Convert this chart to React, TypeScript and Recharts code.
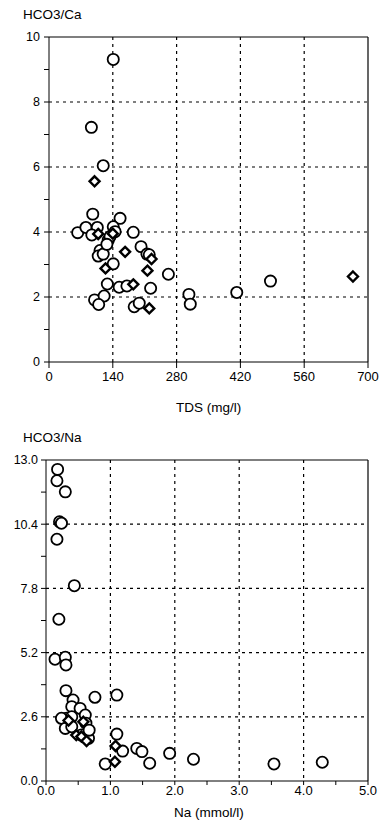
import React from 'react';
import { ScatterChart, Scatter, XAxis, YAxis, CartesianGrid, ReferenceLine } from 'recharts';

// ---- Chart 1: HCO3/Ca vs TDS ----
const tdsCircleX = [141, 93, 119, 96, 63, 81, 106, 94, 156, 141, 145, 185, 130, 134, 112, 108, 119, 202, 215, 141, 262, 128, 154, 171, 223, 100, 121, 109, 187, 198, 307, 310, 412, 486, 127, 220];
const caCircleY = [9.31, 7.22, 6.04, 4.55, 3.98, 4.14, 4.14, 3.91, 4.42, 4.16, 4.01, 3.99, 3.75, 3.86, 3.43, 3.26, 3.32, 3.55, 3.32, 3.02, 2.70, 2.40, 2.30, 2.34, 2.27, 1.91, 2.03, 1.77, 1.70, 1.81, 2.08, 1.78, 2.14, 2.49, 3.62, 3.3];
const tdsDiamondX = [100, 108, 167, 225, 124, 216, 185, 220, 667, 140];
const caDiamondY = [5.56, 3.94, 3.39, 3.17, 2.88, 2.81, 2.39, 1.65, 2.63, 3.95];
const tdsTicks = [0, 140, 280, 420, 560, 700];
const caTicks = [0, 1, 2, 3, 4, 5, 6, 7, 8, 9, 10];
const caMajor = [2, 4, 6, 8];
const tdsGrid = [140, 280, 420, 560];

// ---- Chart 2: HCO3/Na vs Na ----
const naCircleX = [0.18, 0.17, 0.30, 0.21, 0.24, 0.17, 0.44, 0.20, 0.14, 0.30, 0.31, 0.31, 0.76, 1.10, 0.42, 0.40, 0.53, 0.32, 0.24, 0.40, 0.61, 0.62, 0.30, 0.40, 0.55, 0.66, 0.67, 1.10, 1.19, 1.41, 1.49, 1.61, 1.92, 2.29, 0.92, 3.54, 4.29];
const naCircleY = [12.62, 12.16, 11.71, 10.50, 10.44, 9.79, 7.91, 6.55, 4.93, 5.01, 4.70, 3.66, 3.39, 3.48, 3.28, 3.01, 2.94, 2.54, 2.54, 2.60, 2.67, 2.34, 2.13, 2.20, 1.86, 1.73, 2.06, 1.90, 1.21, 1.32, 1.19, 0.72, 1.12, 0.88, 0.69, 0.69, 0.76];
const naDiamondX = [0.47, 0.55, 0.63, 1.08, 1.07, 0.35, 0.58];
const naDiamondY = [1.86, 1.80, 1.62, 1.42, 0.78, 2.45, 2.40];
const naTicks = [0, 0.5, 1, 1.5, 2, 2.5, 3, 3.5, 4, 4.5, 5];
const naMajor = [0, 1, 2, 3, 4, 5];
const naRatioTicks = [0, 1.3, 2.6, 3.9, 5.2, 6.5, 7.8, 9.1, 10.4, 11.7, 13];
const naRatioMajor = [0, 2.6, 5.2, 7.8, 10.4, 13];
const naGridX = [1, 2, 3, 4];
const naGridY = [2.6, 5.2, 7.8, 10.4];

const toPoints = (xs: number[], ys: number[]) => xs.map((x, i) => ({ x, y: ys[i] }));

const FONT = '"Liberation Sans", Arial, sans-serif';

const CircleShape = (props: any) => {
  const { cx, cy } = props;
  if (cx == null || cy == null) return null;
  return <circle cx={cx} cy={cy} r={5.6} fill="#fff" stroke="#000" strokeWidth={1.8} />;
};

const DiamondShape = (props: any) => {
  const { cx, cy } = props;
  if (cx == null || cy == null) return null;
  const s = 5;
  return (
    <polygon
      points={`${cx},${cy - s} ${cx + s},${cy} ${cx},${cy + s} ${cx - s},${cy}`}
      fill="#fff"
      stroke="#000"
      strokeWidth={2.4}
    />
  );
};

const xTickStyle = { fill: '#000', fontSize: 13, fontFamily: FONT };
const yTickStyle = { fill: '#000', fontSize: 12.5, fontFamily: FONT };

const textStyle = (left: number, top: number, size = 13.5): React.CSSProperties => ({
  position: 'absolute',
  left,
  top,
  fontFamily: FONT,
  fontSize: size,
  color: '#000',
  whiteSpace: 'nowrap',
  lineHeight: 1,
});

export default function App() {
  const caCircles = toPoints(tdsCircleX, caCircleY);
  const caDiamonds = toPoints(tdsDiamondX, caDiamondY);
  const naCircles = toPoints(naCircleX, naCircleY);
  const naDiamonds = toPoints(naDiamondX, naDiamondY);

  return (
    <div style={{ position: 'absolute', left: 0, top: 0, width: 380, height: 834, background: '#fff' }}>
      <div style={textStyle(23, 8)}>HCO3/Ca</div>
      <div style={{ position: 'absolute', left: 0, top: 0 }}>
        <ScatterChart width={380} height={420} margin={{ top: 37, right: 12, bottom: 28, left: 0 }}>
          <CartesianGrid
            stroke="#000"
            strokeDasharray="3 4"
            strokeWidth={1.2}
            horizontalValues={caMajor}
            verticalValues={tdsGrid}
          />
          <XAxis
            type="number"
            dataKey="x"
            domain={[0, 700]}
            ticks={tdsTicks}
            interval={0}
            height={30}
            tick={xTickStyle}
            tickSize={6}
            tickMargin={4}
            stroke="#000"
            allowDataOverflow
          />
          <YAxis
            type="number"
            dataKey="y"
            domain={[0, 10]}
            ticks={caTicks}
            interval={0}
            width={49}
            tick={yTickStyle}
            tickSize={5}
            tickMargin={4}
            tickFormatter={(v: number) => (v % 2 === 0 ? String(v) : '')}
            stroke="#000"
            allowDataOverflow
          />
          <ReferenceLine y={10} stroke="#000" strokeWidth={1.2} />
          <ReferenceLine x={700} stroke="#000" strokeWidth={1.2} />
          <Scatter data={caCircles} shape={<CircleShape />} isAnimationActive={false} />
          <Scatter data={caDiamonds} shape={<DiamondShape />} isAnimationActive={false} />
        </ScatterChart>
      </div>
      <div style={textStyle(176, 401)}>TDS (mg/l)</div>

      <div style={textStyle(23, 431)}>HCO3/Na</div>
      <div style={{ position: 'absolute', left: 0, top: 420 }}>
        <ScatterChart width={380} height={414} margin={{ top: 40, right: 12, bottom: 23, left: 0 }}>
          <CartesianGrid
            stroke="#000"
            strokeDasharray="3 4"
            strokeWidth={1.2}
            horizontalValues={naGridY}
            verticalValues={naGridX}
          />
          <XAxis
            type="number"
            dataKey="x"
            domain={[0, 5]}
            ticks={naTicks}
            interval={0}
            height={30}
            tick={xTickStyle}
            tickSize={4}
            tickMargin={1}
            tickFormatter={(v: number) => (naMajor.includes(v) ? v.toFixed(1) : '')}
            stroke="#000"
            allowDataOverflow
          />
          <YAxis
            type="number"
            dataKey="y"
            domain={[0, 13]}
            ticks={naRatioTicks}
            interval={0}
            width={46}
            tick={yTickStyle}
            tickSize={5}
            tickMargin={3}
            tickFormatter={(v: number) => (naRatioMajor.includes(v) ? v.toFixed(1) : '')}
            stroke="#000"
            allowDataOverflow
          />
          <ReferenceLine y={13} stroke="#000" strokeWidth={1.2} />
          <ReferenceLine x={5} stroke="#000" strokeWidth={1.2} />
          <Scatter data={naCircles} shape={<CircleShape />} isAnimationActive={false} />
          <Scatter data={naDiamonds} shape={<DiamondShape />} isAnimationActive={false} />
        </ScatterChart>
      </div>
      <div style={textStyle(174, 806)}>Na (mmol/l)</div>
    </div>
  );
}
